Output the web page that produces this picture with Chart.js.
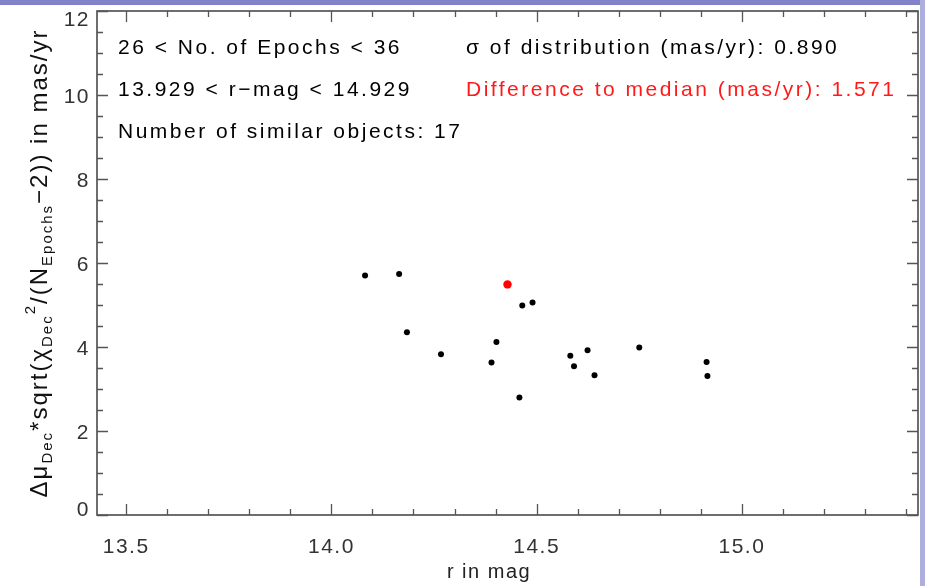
<!DOCTYPE html>
<html>
<head>
<meta charset="utf-8">
<script src="https://cdn.jsdelivr.net/npm/chart.js@4"></script>
<style>
  html, body { margin: 0; padding: 0; background: #fff; }
  canvas { display: block; }
</style>
</head>
<body>
<canvas id="ScatterChart" width="925" height="586"></canvas>
<script>
// comparison objects: r magnitude vs. scaled Dec proper motion error
const rMag = [14.082, 14.165, 14.184, 14.267, 14.390, 14.402, 14.458, 14.465,
              14.490, 14.582, 14.591, 14.624, 14.641, 14.750, 14.914, 14.916];
const decError = [5.70, 5.74, 4.35, 3.83, 3.63, 4.12, 2.80, 4.99,
                  5.06, 3.79, 3.54, 3.92, 3.33, 3.99, 3.64, 3.31];

// the object itself
const targetMag = [14.429];
const targetError = [5.49];

const xTicks = [13.5, 14.0, 14.5, 15.0];
const yTicks = [0, 2, 4, 6, 8, 10, 12];
const xRange = [13.429, 15.429];
const yRange = [0, 12];

const infoLeft = ['26 < No. of Epochs < 36', '13.929 < r\u2212mag < 14.929', 'Number of similar objects: 17'];
const infoRight = ['\u03c3 of distribution (mas/yr): 0.890', 'Difference to median (mas/yr): 1.571'];

const FONT = '"Liberation Sans", Arial, sans-serif';
const AXIS = '#555';

function toPoints(xs, ys) {
  return xs.map((x, i) => ({ x: x, y: ys[i] }));
}

// inward ticks on all four sides, IDL style
function drawTicks(ctx, scale, horizontal, chartArea) {
  const step = horizontal ? 0.1 : 0.5;
  const major = horizontal ? 0.5 : 2;
  const lo = Math.ceil(scale.min / step - 1e-6);
  const hi = Math.floor(scale.max / step + 1e-6);
  for (let k = lo; k <= hi; k++) {
    const v = k * step;
    const isMajor = Math.abs(v / major - Math.round(v / major)) < 1e-6;
    const len = isMajor ? 11 : 6;
    const p = Math.round(scale.getPixelForValue(v)) + 0.5;
    ctx.beginPath();
    if (horizontal) {
      ctx.moveTo(p, chartArea.bottom); ctx.lineTo(p, chartArea.bottom - len);
      ctx.moveTo(p, chartArea.top); ctx.lineTo(p, chartArea.top + len);
    } else {
      ctx.moveTo(chartArea.left, p); ctx.lineTo(chartArea.left + len, p);
      ctx.moveTo(chartArea.right, p); ctx.lineTo(chartArea.right - len, p);
    }
    ctx.stroke();
  }
}

// y tick labels, kept inside the frame height at both ends
function drawYLabels(ctx, scale, chartArea) {
  ctx.save();
  ctx.font = '21px ' + FONT;
  ctx.letterSpacing = '1.5px';
  ctx.fillStyle = '#333';
  ctx.textAlign = 'right';
  ctx.textBaseline = 'middle';
  yTicks.forEach(v => {
    let y = scale.getPixelForValue(v) + 2;
    y = Math.min(Math.max(y, chartArea.top + 9), chartArea.bottom - 5);
    ctx.fillText(String(v), chartArea.left - 7, y);
  });
  ctx.restore();
}

// y title with sub/superscripts, drawn rotated
function drawYTitle(ctx, cx, cy) {
  const parts = [
    { t: '\u0394\u03bc', k: 'n' }, { t: 'Dec', k: 'sub' },
    { t: '*sqrt(\u03c7', k: 'n' }, { t: 'Dec', k: 'sub' }, { t: '2', k: 'sup' },
    { t: '/(N', k: 'n' }, { t: 'Epochs', k: 'sub' },
    { t: '\u22122)) in mas/yr', k: 'n' }
  ];
  const fontFor = k => (k === 'n' ? '24px ' : '15px ') + FONT;
  ctx.save();
  ctx.translate(cx, cy);
  ctx.rotate(-Math.PI / 2);
  ctx.letterSpacing = '2px';
  let total = 0;
  parts.forEach(p => { ctx.font = fontFor(p.k); p.w = ctx.measureText(p.t).width; total += p.w; });
  let x = -total / 2;
  ctx.fillStyle = '#111';
  ctx.textBaseline = 'alphabetic';
  parts.forEach(p => {
    ctx.font = fontFor(p.k);
    const dy = p.k === 'sub' ? 5 : p.k === 'sup' ? -12 : 0;
    ctx.fillText(p.t, x, 9 + dy);
    x += p.w;
  });
  ctx.restore();
}

const decorations = {
  id: 'decorations',
  beforeDraw(chart) {
    const ctx = chart.ctx;
    ctx.save();
    ctx.fillStyle = '#fff';
    ctx.fillRect(0, 0, chart.width, chart.height);
    // slide frame strips
    ctx.fillStyle = '#8282c8';
    ctx.fillRect(0, 0, chart.width, 5);
    ctx.fillStyle = '#adadde';
    ctx.fillRect(920, 0, 5, chart.height);
    ctx.restore();
    // wide spacing for the tick labels too
    ctx.letterSpacing = '1.5px';
  },
  afterDraw(chart) {
    const ctx = chart.ctx;
    const a = chart.chartArea;
    const xs = chart.scales.x, ys = chart.scales.y;
    ctx.save();
    ctx.strokeStyle = AXIS;
    ctx.lineWidth = 1.7;
    ctx.strokeRect(a.left, a.top, a.right - a.left, a.bottom - a.top);
    ctx.lineWidth = 1.3;
    drawTicks(ctx, xs, true, a);
    drawTicks(ctx, ys, false, a);

    // info block, baselines on whole y units
    ctx.font = '21px ' + FONT;
    ctx.letterSpacing = '2.5px';
    ctx.textBaseline = 'alphabetic';
    ctx.fillStyle = '#000';
    infoLeft.forEach((s, i) => ctx.fillText(s, 118, ys.getPixelForValue(11 - i) + 1));
    ctx.fillText(infoRight[0], 466, ys.getPixelForValue(11) + 1);
    ctx.fillStyle = '#ff1a1a';
    ctx.fillText(infoRight[1], 466, ys.getPixelForValue(10) + 1);

    // x title
    ctx.fillStyle = '#222';
    ctx.font = '20px ' + FONT;
    ctx.letterSpacing = '1.5px';
    ctx.textAlign = 'center';
    ctx.fillText('r in mag', 489, 578);
    ctx.restore();

    drawYLabels(ctx, ys, a);
    drawYTitle(ctx, 38, 263);
  }
};

function drawScatter() {
  const ctx = document.getElementById('ScatterChart').getContext('2d');
  const tickFont = { family: FONT, size: 21 };
  new Chart(ctx, {
    type: 'scatter',
    data: {
      datasets: [{
        data: toPoints(targetMag, targetError),
        backgroundColor: '#ff0000',
        borderWidth: 0,
        pointRadius: 4.2
      }, {
        data: toPoints(rMag, decError),
        backgroundColor: '#000',
        borderWidth: 0,
        pointRadius: 3
      }]
    },
    options: {
      responsive: false,
      animation: false,
      layout: { padding: { top: 11, right: 7, left: 0, bottom: 0 } },
      plugins: { legend: { display: false }, tooltip: { enabled: false } },
      scales: {
        x: {
          type: 'linear',
          min: xRange[0],
          max: xRange[1],
          grid: { display: false, drawTicks: false },
          border: { display: false },
          afterBuildTicks: s => { s.ticks = xTicks.map(v => ({ value: v })); },
          afterFit: s => { s.height = 71; s.paddingLeft = 0; s.paddingRight = 0; },
          ticks: {
            font: tickFont, color: '#333', padding: 20,
            maxRotation: 0, autoSkip: false,
            callback: v => Number(v).toFixed(1)
          }
        },
        y: {
          min: yRange[0],
          max: yRange[1],
          grid: { display: false, drawTicks: false },
          border: { display: false },
          afterBuildTicks: s => { s.ticks = yTicks.map(v => ({ value: v })); },
          afterFit: s => { s.width = 97; s.paddingTop = 0; s.paddingBottom = 0; },
          ticks: { display: false }
        }
      }
    },
    plugins: [decorations]
  });
}

document.addEventListener('DOMContentLoaded', drawScatter);
</script>
</body>
</html>
